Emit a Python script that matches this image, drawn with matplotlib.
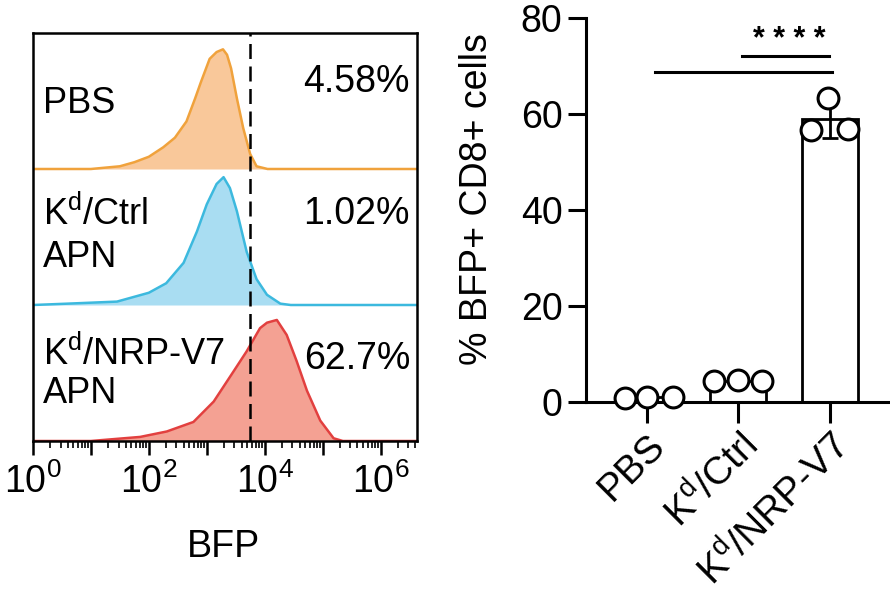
import numpy as np
import matplotlib
matplotlib.use('Agg')
import matplotlib.pyplot as plt
from matplotlib.ticker import FixedLocator, NullFormatter

plt.rcParams['font.family'] = ['Liberation Sans', 'DejaVu Sans']
plt.rcParams['mathtext.fontset'] = 'custom'
plt.rcParams['mathtext.rm'] = 'Liberation Sans'
plt.rcParams['mathtext.it'] = 'Liberation Sans:italic'
plt.rcParams['mathtext.bf'] = 'Liberation Sans:bold'

# ---- left panel: BFP histograms (log10 BFP vs normalised count) ----
pbs_log = [0.0, 1.0, 1.5, 1.75, 2.0, 2.25, 2.45, 2.65, 2.8, 2.9, 3.05, 3.17, 3.28,
           3.35, 3.42, 3.52, 3.63, 3.75, 3.86, 4.05, 6.7]
pbs_h = [0.0, 0.0, 0.02, 0.05, 0.09, 0.16, 0.23, 0.35, 0.52, 0.64, 0.81, 0.86, 0.88,
         0.84, 0.74, 0.52, 0.30, 0.11, 0.02, 0.0, 0.0]
ctrl_log = [0.0, 0.6, 1.45, 2.0, 2.3, 2.6, 2.83, 3.0, 3.17, 3.29, 3.40, 3.52, 3.69,
            3.86, 4.04, 4.27, 4.45, 6.7]
ctrl_h = [0.0, 0.01, 0.025, 0.09, 0.16, 0.31, 0.54, 0.74, 0.89, 0.94, 0.86, 0.69, 0.39,
          0.19, 0.075, 0.01, 0.0, 0.0]
nrp_log = [0.0, 1.0, 1.85, 2.31, 2.77, 3.12, 3.46, 3.69, 3.92, 4.04, 4.21, 4.38, 4.55,
           4.73, 4.96, 5.19, 5.35, 6.7]
nrp_h = [0.0, 0.0, 0.03, 0.07, 0.14, 0.29, 0.51, 0.66, 0.83, 0.87, 0.89, 0.78, 0.59,
         0.37, 0.15, 0.02, 0.0, 0.0]
gate_log = 3.75
row_names = ['PBS', 'K$^\\mathregular{d}$/Ctrl\nAPN', 'K$^\\mathregular{d}$/NRP-V7\nAPN']
row_pcts = ['4.58%', '1.02%', '62.7%']

# ---- right panel: % BFP+ CD8+ cells ----
groups = ['PBS', 'K$^\\mathregular{d}$/Ctrl', 'K$^\\mathregular{d}$/NRP-V7']
pbs_pts = [0.9, 1.1, 1.0]
ctrl_pts = [4.4, 4.6, 4.3]
nrp_pts = [56.6, 63.3, 56.8]

line_cols = ['#F0A23C', '#3CB9DE', '#E2403F']
fill_cols = ['#F9C89A', '#A9DDF2', '#F4A193']

fig = plt.figure(figsize=(8.9, 5.99), dpi=100)

ax = fig.add_axes([33/890, 1-441/599, 384/890, 408/599])
curves = [(pbs_log, pbs_h), (ctrl_log, ctrl_h), (nrp_log, nrp_h)]
for i, (lg, h) in enumerate(curves):
    base = 2 - i
    x = 10**np.array(lg)
    y = base + np.array(h)
    ax.fill_between(x, base, y, color=fill_cols[i], lw=0)
    ax.plot(x, y, color=line_cols[i], lw=1.8)
ax.axvline(10**gate_log, color='k', lw=1.8, dashes=(6, 3))
ax.set_xscale('log')
ax.set_xlim(1, 10**6.63)
ax.set_ylim(0, 3)
ax.set_yticks([])
ax.xaxis.set_major_locator(FixedLocator([10**k for k in range(7)]))
ax.set_xticklabels(['$\\mathregular{10^{%d}}$' % k if k % 2 == 0 else '' for k in range(7)],
                   fontsize=27)
ax.xaxis.set_minor_locator(FixedLocator([m * 10**k for k in range(7) for m in range(2, 10)]))
ax.xaxis.set_minor_formatter(NullFormatter())
ax.tick_params(axis='x', which='major', length=10, width=1.8, pad=6)
ax.tick_params(axis='x', which='minor', length=5, width=1.2)
for s in ax.spines.values():
    s.set_linewidth(1.8)

name_y = [(2.48,), (1.67, 1.35), (0.64, 0.35)]
for i in range(3):
    lines = row_names[i].split('\n')
    for txt, yy in zip(lines, name_y[i]):
        ax.text(0.026, yy, txt, transform=ax.get_yaxis_transform(), fontsize=26,
                ha='left', va='center')
pct_y = [2.64, 1.67, 0.60]
for i in range(3):
    ax.text(0.982, pct_y[i], row_pcts[i], transform=ax.get_yaxis_transform(), fontsize=27,
            ha='right', va='center')
fig.text(223/890, 1-547/599, 'BFP', fontsize=27, ha='center', va='center')

# right panel
ax2 = fig.add_axes([586/890, 1-402/599, 304/890, 384/599])
data = [pbs_pts, ctrl_pts, nrp_pts]
offsets = [[-0.24, 0.0, 0.28], [-0.27, 0.0, 0.26], [-0.2, -0.02, 0.2]]
xpos = np.arange(len(groups))
means = [np.mean(d) for d in data]
sds = [np.std(d, ddof=1) for d in data]
ax2.bar(xpos, means, width=0.61, color='white', edgecolor='k', lw=2, zorder=1)
ax2.errorbar(xpos, means, yerr=sds, fmt='none', ecolor='k', elinewidth=2,
             capsize=6, capthick=2, zorder=2)
for i, d in enumerate(data):
    ax2.plot(xpos[i] + np.array(offsets[i]), d, 'o', ms=15, mfc='white', mec='k',
             mew=2.2, zorder=3, clip_on=False)

ax2.plot([1.04, 1.99], [72, 72], color='k', lw=2.2)
ax2.plot([0.09, 2.03], [68.7, 68.7], color='k', lw=2.2)
ax2.text(1.56, 75.5, '* * * *', fontsize=22, fontweight='bold', ha='center', va='center')

ax2.set_xlim(-0.667, 2.66)
ax2.set_ylim(0, 80)
ax2.set_yticks([0, 20, 40, 60, 80])
ax2.tick_params(axis='y', labelsize=27, length=13, width=2.2, pad=4)
ax2.tick_params(axis='x', length=15, width=2.2, pad=3)
ax2.set_xticks(xpos)
ax2.set_xticklabels(groups, fontsize=28, rotation=45, ha='right', va='top',
                    rotation_mode='anchor')
ax2.spines['top'].set_visible(False)
ax2.spines['right'].set_visible(False)
ax2.spines['left'].set_linewidth(2.2)
ax2.spines['bottom'].set_linewidth(2.2)
fig.text(477/890, 1-199/599, '% BFP+ CD8+ cells', fontsize=27, rotation=90,
         ha='center', va='center')

fig.savefig('out.png', dpi=100)
